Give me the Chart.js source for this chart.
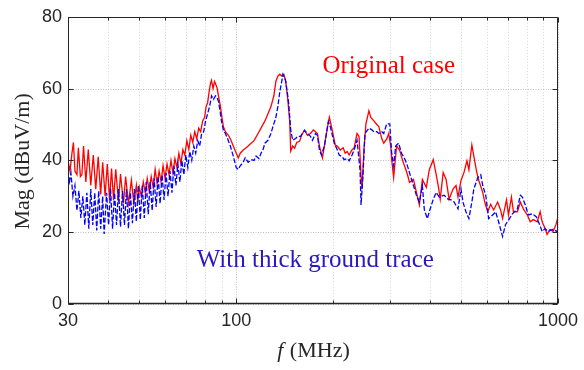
<!DOCTYPE html>
<html><head><meta charset="utf-8">
<script src="https://cdn.jsdelivr.net/npm/chart.js@4/dist/chart.umd.min.js"></script>
<style>html,body{margin:0;padding:0;background:#fff;}canvas{display:block;}</style>
</head><body>
<canvas id="c" width="584" height="370"></canvas>
<script>
// ---- data (frequency in MHz, magnitude in dBuV/m) ----
const redFreq = [
 30.0,30.43,30.86,31.19,31.53,31.98,32.31,32.78,33.13,33.53,
 34.08,34.69,35.31,35.95,36.59,37.24,37.91,38.45,39.13,39.74,
 40.40,40.97,41.56,42.22,43.06,43.68,44.62,45.32,46.23,47.22,
 48.06,48.92,49.44,49.97,50.69,51.41,52.14,52.89,53.64,54.41,
 55.19,55.97,56.77,57.58,58.40,59.23,60.08,60.94,61.81,62.69,
 63.58,64.49,65.41,66.34,67.29,68.25,69.22,70.22,71.22,72.23,
 73.27,74.31,75.37,76.44,77.53,78.64,79.76,80.6,81.46,82.34,
 83.21,83.80,84.7,85.61,86.51,87.13,88.06,89.32,
 90.28,91.22,92.53,94.52,95.87,97.92,100.0,101.5,102.9,105.1,107.4,108.9,
 111.2,113.6,116.9,119.4,122.8,125.5,128.2,130.9,132.8,134.7,136.6,138.5,140.5,142.5,144.6,146.6,147.7,
 149.8,151.9,154.1,157.4,159.6,163.0,166.5,170.1,173.8,176.3,178.8,181.4,185.3,
 189.2,191.9,194.7,198.8,203.1,206.0,210.5,215.0,218.0,221.2,224.3,229.1,232.4,
 237.4,240.8,244.3,246.0,249.4,253.0,258.4,262.1,267.7,273.5,277.4,283.4,287.4,
 293.6,297.8,302.1,304.2,308.5,315.1,321.9,328.8,333.5,340.7,345.5,355.5,363.1,370.9,378.9,
 389.8,398.2,409.6,418.4,424.4,430.5,439.7,449.1,458.7,471.9,482.1,488.9,499.5,510.2,521.2,528.6,
 539.9,547.6,559.4,567.4,583.7,592.0,604.7,617.7,631.0,649.2,663.1,672.6,691.8,701.7,716.8,727.0,
 747.9,764.0,780.4,802.8,820.1,837.7,861.8,880.3,892.9,912.0,925.0,944.9,965.2,985.9,1000
];
const redMag = [
 40,37,42,45,37,36,43.5,35.5,36,44,
 34,43,33,41.5,32,41,30.5,39.5,30,39,
 29,37.7,29,37.5,28.5,36.2,28,35.5,28,34.5,
 28,33,28.5,32.5,30,34,31,35,31.5,35.5,
 32.5,37.5,33.5,37,34,38.5,35,39,36,40,
 36.5,40.5,38,42,39,43,41.5,45.5,43,47,
 45,48,46,49,48,51,52,55,56,59,
 61.5,62.3,60,62,61,60.3,58,55,
 52,49.4,48,47,46,44,42,40.7,42,42.9,43.5,44,
 44.8,45.5,47.5,49,51,53,55,58,62,63.5,64,63.5,64,62,57,51,42.6,
 44,43.4,45,45.3,47,48.4,47,47.5,48.5,48,47.5,44,40.7,
 45.6,49,52,48.4,44.3,44,42.9,43.5,42,42.5,41.5,43,43.4,
 47.5,46.7,35.8,32,43,50.2,53.8,52,51,50,49.4,46,44.8,
 46,47.5,44,40.2,35.2,44,42.9,40,38.5,36,33.9,34.7,31.1,27.6,34.7,
 32.5,37.4,40.2,36,33,29.2,36.6,34.7,29.2,32,33,29.8,34.4,36.6,39.9,37.4,
 44.3,41.2,36.6,34.4,31.1,28.4,25.7,27.8,26.2,28.4,26.2,23.8,29,24.8,29.8,25.7,
 25.7,28.4,26.5,24.8,22.9,23.5,22.9,25.7,22.9,21,19.4,20.8,20.2,22.1,24.3
];
const blueFreq = [
 30.0,30.32,30.64,31.08,31.53,31.98,32.43,32.89,33.36,33.84,
 34.33,34.82,35.31,35.82,36.33,36.85,37.37,37.91,38.45,38.86,
 39.55,40.11,40.69,41.27,41.86,42.46,43.06,43.68,44.31,44.94,
 45.58,46.23,46.89,47.56,48.24,48.92,49.62,50.33,51.05,51.78,
 52.52,53.27,54.02,54.80,55.58,56.37,57.17,57.99,58.81,59.65,
 60.51,61.37,62.25,63.13,64.04,64.95,65.87,66.81,67.77,68.73,
 69.71,70.72,71.72,72.75,73.79,74.84,75.90,76.99,78.08,79.20,
 80.32,81.46,82.62,83.80,85.00,86.21,87.13,88.06,89.32,89.95,91.22,
 92.53,94.52,95.87,97.92,100.0,101.5,102.9,105.1,106.6,108.9,111.2,113.6,115.2,
 117.7,119.4,121.1,122.8,125.5,128.2,130.0,132.8,134.7,136.6,138.5,139.6,141.5,142.5,144.6,145.6,147.7,
 149.8,153.0,155.2,158.5,163.0,166.5,170.1,172.6,176.3,178.8,181.4,184.0,
 187.9,193.3,196.0,201.7,206.0,208.9,213.5,216.5,221.2,224.3,229.1,232.4,
 237.4,242.5,244.3,247.7,251.2,258.4,263.9,267.7,273.5,277.4,283.4,287.4,293.6,300.0,
 304.2,308.5,312.9,319.6,326.5,333.5,338.3,345.5,355.5,363.1,370.9,378.9,384.3,
 392.6,398.2,409.6,418.4,427.4,442.8,455.5,465.3,475.3,488.9,499.5,506.6,517.5,528.6,539.9,547.6,
 563.4,575.5,583.7,596.2,609.0,626.5,640.0,653.8,672.6,687.0,706.7,721.9,747.9,764.0,774.9,
 791.5,808.5,831.8,855.7,874.1,892.9,912.0,931.6,965.2,992.9,1000
];
const blueMag = [
 36,34,36.5,30,33,26,31.5,24,30,22,
 31,21,32,22,31,20.5,31.5,21,30,19.5,
 31,22,32,21,31,22,32,21.5,31.5,22,
 32,21,31,22.5,32,23,33,23.5,33,24,
 34,25,34,26,35,27,35.5,28,36,29,
 36.5,30,37,31,38.5,33,39,34,40,36,
 41.5,38,42.5,40,44,42,45.5,44,47.5,48,
 51,53,55,58,57,58,57.6,56.5,53,51,48.4,
 47.5,45.5,44,41.2,38,37.5,38.5,39.5,40.7,39.5,40.2,40,41.2,
 40.5,42,43,44.8,45.6,47.5,49.4,52,55,59.2,62,64,63,62,58,55.7,48.4,
 45.6,46.1,46.7,46.7,48.4,47.5,46.7,45.6,47.5,47,42.9,41.5,
 44,50.8,49.4,44.8,43,41.5,41,40.2,40.5,39.9,41.5,42.9,
 45.6,37.4,27.6,35.8,47.5,49,48.5,48,48,47.5,48,47.5,50.2,50.2,
 42,38.5,44,44.8,42,40.5,39.3,36.6,33,30.3,28.4,33,26.2,
 23.8,25.7,29.2,31.1,29.8,30.3,29.2,29,28.4,26.5,32,28.4,25.7,23.8,28.4,32,
 35.2,36,33,30.3,23.8,24.8,25.7,22.9,18.8,22.1,23.8,25.1,26.5,30.3,29.8,
 27.6,24.8,25.1,24.3,22.4,20.2,21,20.2,20.8,20.2,21
];
const xTickValues = [30, 100, 1000];
const xMinorValues = [40, 50, 60, 70, 80, 90, 200, 300, 400, 500, 600, 700, 800, 900];
const yTickValues = [0, 20, 40, 60, 80];
const seriesNames = ['Original case', 'With thick ground trace'];
const textLabels = [
  {text: 'Original case', freq: 185.3, mag: 64.4, color: '#ff0000'},
  {text: 'With thick ground trace', freq: 75.4, mag: 10.4, color: '#2a18c0'}
];
const xTitleItalic = 'f', xTitleRest = ' (MHz)';
const yTitle = 'Mag (dBuV/m)';

// ---- chart ----
const pts = (fs, ms) => fs.map((f, i) => ({x: f, y: ms[i]}));
const AX = '#262626';
const SERIF = '"Liberation Serif","Times New Roman",serif';
const SANS = '"Liberation Sans",Arial,Helvetica,sans-serif';

const decor = {
  id: 'decor',
  beforeDatasetsDraw(chart) {
    const {ctx, chartArea: a, scales: {x, y}} = chart;
    ctx.save();
    ctx.lineWidth = 1;
    const vl = (v, col, dash) => {
      const p = Math.round(x.getPixelForValue(v)) + 0.5;
      ctx.strokeStyle = col; ctx.setLineDash(dash);
      ctx.beginPath(); ctx.moveTo(p, a.top); ctx.lineTo(p, a.bottom); ctx.stroke();
    };
    const hl = (v, col, dash) => {
      const p = Math.round(y.getPixelForValue(v)) + 0.5;
      ctx.strokeStyle = col; ctx.setLineDash(dash);
      ctx.beginPath(); ctx.moveTo(a.left, p); ctx.lineTo(a.right, p); ctx.stroke();
    };
    xMinorValues.forEach(v => vl(v, '#d6d6d6', [1, 2]));
    xTickValues.forEach(v => vl(v, '#bdbdbd', [1, 1.5]));
    yTickValues.forEach(v => hl(v, '#bdbdbd', [1, 1.5]));
    ctx.restore();
  },
  afterDatasetsDraw(chart) {
    const {ctx, chartArea: a, scales: {x, y}} = chart;
    ctx.save();
    ctx.setLineDash([]);
    ctx.strokeStyle = AX;
    ctx.lineWidth = 1;
    const L = Math.round(a.left) + 0.5, R = Math.round(a.right) - 0.5;
    const T = Math.round(a.top) + 0.5, B = Math.round(a.bottom) - 0.5;
    ctx.beginPath();
    ctx.rect(L, T, R - L, B - T);
    ctx.stroke();
    ctx.lineWidth = 1.5;
    ctx.beginPath(); ctx.moveTo(L - 0.5, B); ctx.lineTo(R + 0.5, B); ctx.stroke();
    ctx.lineWidth = 1;
    // inward ticks
    const tickX = (v, len) => {
      const p = Math.round(x.getPixelForValue(v)) + 0.5;
      ctx.beginPath();
      ctx.moveTo(p, B); ctx.lineTo(p, B - len);
      ctx.moveTo(p, T); ctx.lineTo(p, T + len);
      ctx.stroke();
    };
    xMinorValues.forEach(v => tickX(v, 3));
    xTickValues.forEach(v => tickX(v, 5));
    yTickValues.forEach(v => {
      const p = Math.round(y.getPixelForValue(v)) + 0.5;
      ctx.beginPath();
      ctx.moveTo(L, p); ctx.lineTo(L + 5, p);
      ctx.moveTo(R, p); ctx.lineTo(R - 5, p);
      ctx.stroke();
    });
    // in-plot text labels
    ctx.font = '25px ' + SERIF;
    ctx.textAlign = 'left';
    ctx.textBaseline = 'alphabetic';
    textLabels.forEach(t => {
      ctx.fillStyle = t.color;
      ctx.fillText(t.text, x.getPixelForValue(t.freq), y.getPixelForValue(t.mag));
    });
    // axis titles
    ctx.fillStyle = AX;
    ctx.font = 'italic 22px ' + SERIF;
    const wI = ctx.measureText(xTitleItalic).width;
    ctx.font = '22px ' + SERIF;
    const wR = ctx.measureText(xTitleRest).width;
    const cx = (a.left + a.right) / 2;
    const sx = cx - (wI + wR) / 2;
    ctx.font = 'italic 22px ' + SERIF;
    ctx.fillText(xTitleItalic, sx, 357);
    ctx.font = '22px ' + SERIF;
    ctx.fillText(xTitleRest, sx + wI + 1, 357);
    ctx.translate(29, (a.top + a.bottom) / 2 + 1);
    ctx.rotate(-Math.PI / 2);
    ctx.textAlign = 'center';
    ctx.font = '22px ' + SERIF;
    ctx.fillText(yTitle, 0, 0);
    ctx.restore();
  }
};

new Chart(document.getElementById('c').getContext('2d'), {
  type: 'line',
  data: {
    datasets: [
      {label: seriesNames[1], data: pts(blueFreq, blueMag), borderColor: '#0000ff', borderWidth: 1.3,
       borderDash: [5, 2], pointRadius: 0, fill: false, tension: 0},
      {label: seriesNames[0], data: pts(redFreq, redMag), borderColor: '#ff0000', borderWidth: 1.3,
       pointRadius: 0, fill: false, tension: 0}
    ]
  },
  options: {
    responsive: false, animation: false, devicePixelRatio: 1,
    layout: {padding: {left: 0, right: 21, top: 11, bottom: 0}},
    plugins: {legend: {display: false}, tooltip: {enabled: false}},
    scales: {
      x: {
        type: 'logarithmic', min: 30, max: 1000,
        afterBuildTicks: s => { s.ticks = xTickValues.map(v => ({value: v})); },
        afterFit: s => { s.height = 66; },
        grid: {display: false, drawTicks: false}, border: {display: false},
        ticks: {autoSkip: false, maxRotation: 0, padding: 6, color: AX,
                font: {family: SANS, size: 18}, callback: v => String(v)}
      },
      y: {
        type: 'linear', min: 0, max: 80,
        afterBuildTicks: s => { s.ticks = yTickValues.map(v => ({value: v})); },
        afterFit: s => { s.width = 68; },
        grid: {display: false, drawTicks: false}, border: {display: false},
        ticks: {padding: 6, color: AX, font: {family: SANS, size: 18}, callback: v => String(v)}
      }
    }
  },
  plugins: [decor]
});
</script>
</body></html>
